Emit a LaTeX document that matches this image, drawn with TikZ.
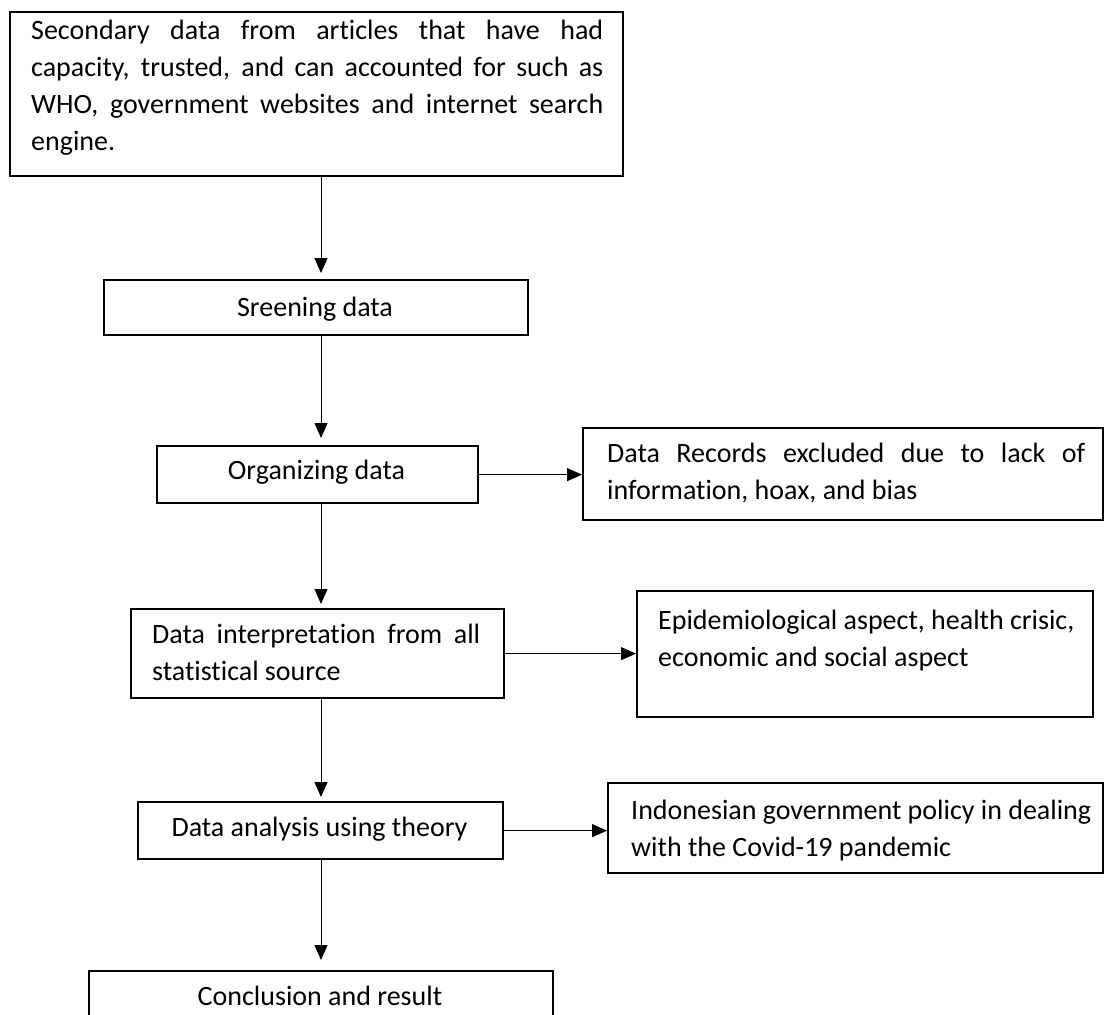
\documentclass[tikz,border=0pt]{standalone}
\usepackage{fontspec}
\setmainfont{Carlito}[Ligatures={NoCommon,NoRare}]
\usetikzlibrary{arrows.meta}
\newcommand\jline[2]{\makebox[#1][s]{\spaceskip=0pt\xspaceskip=0pt\strut #2}}
\newcommand\nline[1]{\mbox{\spaceskip=0pt\xspaceskip=0pt\strut #1}}
\begin{document}
\begin{tikzpicture}[x=1pt,y=-1pt,
  box/.style={draw, line width=2.3pt, inner sep=0pt, anchor=north west},
  txt/.style={inner sep=0pt, anchor=north west, align=left, font=\fontsize{28}{37}\selectfont},
  ctxt/.style={inner sep=0pt, anchor=base, font=\fontsize{28}{37}\selectfont},
  arr/.style={line width=1pt, -{Triangle[length=15pt,width=13pt]}}]
\clip (0,0) rectangle (1112,1015);
\fill[white] (0,0) rectangle (1112,1015);
\coordinate (spine) at (321,0);
% boxes
\node[box, minimum width=613pt, minimum height=164pt] (b1) at (9,11) {};
\node[box, minimum width=424pt, minimum height=55pt] (b2) at (103,279) {};
\node[box, minimum width=321pt, minimum height=57pt] (b3) at (156,445) {};
\node[box, minimum width=520pt, minimum height=92pt] (b4) at (582,427) {};
\node[box, minimum width=373pt, minimum height=89pt] (b5) at (130,608) {};
\node[box, minimum width=456pt, minimum height=126pt] (b6) at (636,590) {};
\node[box, minimum width=365pt, minimum height=57pt] (b7) at (137,801) {};
\node[box, minimum width=495pt, minimum height=90pt] (b8) at (607,782) {};
\node[box, minimum width=464pt, minimum height=70pt] (b9) at (88,970) {};
% texts
\node[txt, text width=572pt] (t1) at (31,13.1) {%
\jline{572pt}{Secondary data from articles that have had}\\
\jline{572pt}{capacity, trusted, and can accounted for such as}\\
\jline{572pt}{WHO, government websites and internet search}\\
\nline{engine.}};
\node[ctxt] (t2) at (315,316) {Sreening data};
\node[ctxt] (t3) at (316.5,479) {Organizing data};
\node[txt, text width=478pt] (t4) at (607,436.1) {%
\jline{478pt}{Data Records excluded due to lack of}\\
\nline{information, hoax, and bias}};
\node[txt, text width=328pt] (t5) at (152,617.1) {%
\jline{328pt}{Data interpretation from all}\\
\nline{statistical source}};
\node[txt, text width=430pt] (t6) at (658,603.1) {%
\nline{Epidemiological aspect, health crisic,}\\
\nline{economic and social aspect}};
\node[ctxt] (t7) at (319.5,836) {Data analysis using theory};
\node[txt, text width=470pt] (t8) at (631,793.1) {%
\nline{Indonesian government policy in dealing}\\
\nline{with the Covid-19 pandemic}};
\node[ctxt] (t9) at (320,1005) {Conclusion and result};
% connectors
\draw[arr, shorten >=6pt] (b1.south -| spine) -- (b2.north -| spine);
\draw[arr, shorten >=7pt] (b2.south -| spine) -- (b3.north -| spine);
\draw[arr, shorten >=4pt] (b3.south -| spine) -- (b5.north -| spine);
\draw[arr, shorten >=4pt] (b5.south -| spine) -- (b7.north -| spine);
\draw[arr, shorten >=10pt] (b7.south -| spine) -- (b9.north -| spine);
\draw[arr] (b3.east) -- (b3.east -| b4.west);
\draw[arr] (b5.east) -- (b5.east -| b6.west);
\draw[arr] (b7.east) -- (b7.east -| b8.west);
\end{tikzpicture}
\end{document}
